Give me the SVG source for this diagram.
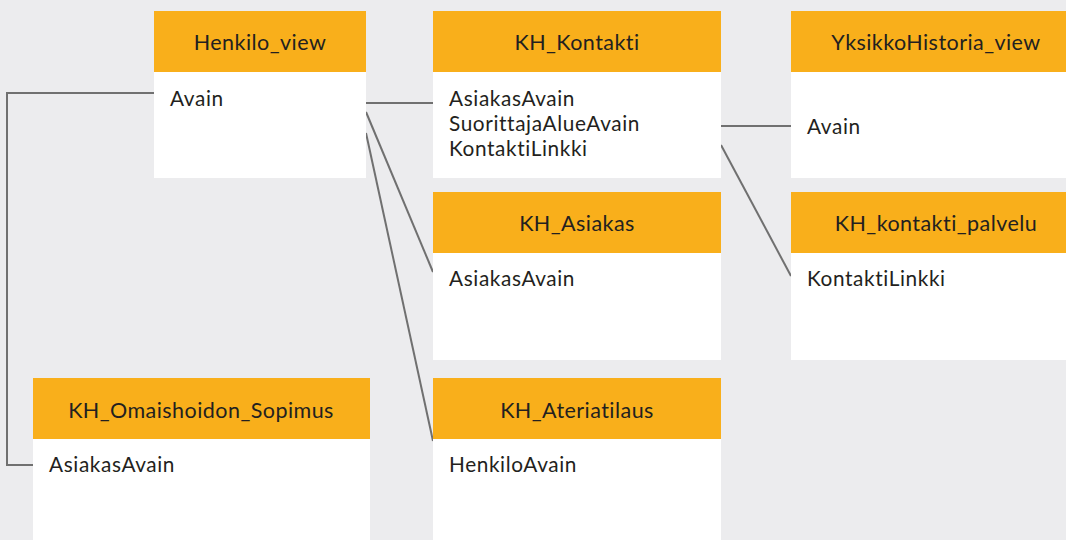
<svg xmlns="http://www.w3.org/2000/svg" width="1066" height="540" viewBox="0 0 1066 540">
  <style>
    .hdr { fill: #f9af1b; }
    .body { fill: #ffffff; }
    text { font-family: Lato, "Open Sans", sans-serif; fill: #231f20; font-variant-ligatures: none; }
    .title { font-size: 21.5px; letter-spacing: 0.45px; text-anchor: middle; }
    .field { font-size: 20.8px; letter-spacing: 0.6px; }
    .link { fill: none; stroke: #707070; stroke-width: 2; }
  </style>
  <rect width="1066" height="540" fill="#ececee"/>

  <!-- relations between tables -->
  <g id="connectors">
    <polyline class="link" points="154,93 7,93 7,465 33,465"/>
    <line class="link" x1="366" y1="103" x2="433" y2="103"/>
    <line class="link" x1="366" y1="112" x2="433" y2="272"/>
    <line class="link" x1="366" y1="133" x2="433" y2="441"/>
    <line class="link" x1="721" y1="126" x2="791" y2="126"/>
    <line class="link" x1="721" y1="145" x2="791" y2="276"/>
  </g>

  <g id="henkilo_view">
    <rect class="body" x="154" y="11" width="212" height="167"/>
    <rect class="hdr" x="154" y="11" width="212" height="61"/>
    <text class="title" x="260" y="50">Henkilo_view</text>
    <text class="field" x="170" y="106">Avain</text>
  </g>

  <g id="kh_kontakti">
    <rect class="body" x="433" y="11" width="288" height="167"/>
    <rect class="hdr" x="433" y="11" width="288" height="61"/>
    <text class="title" x="577" y="50">KH_Kontakti</text>
    <text class="field" x="449" y="106">AsiakasAvain<tspan x="449" dy="25">SuorittajaAlueAvain</tspan><tspan x="449" dy="25">KontaktiLinkki</tspan></text>
  </g>

  <g id="yksikkohistoria_view">
    <rect class="body" x="791" y="11" width="275" height="167"/>
    <rect class="hdr" x="791" y="11" width="275" height="61"/>
    <text class="title" x="936" y="50">YksikkoHistoria_view</text>
    <text class="field" x="807" y="134">Avain</text>
  </g>

  <g id="kh_asiakas">
    <rect class="body" x="433" y="192" width="288" height="168"/>
    <rect class="hdr" x="433" y="192" width="288" height="61"/>
    <text class="title" x="577" y="231">KH_Asiakas</text>
    <text class="field" x="449" y="286">AsiakasAvain</text>
  </g>

  <g id="kh_kontakti_palvelu">
    <rect class="body" x="791" y="192" width="275" height="168"/>
    <rect class="hdr" x="791" y="192" width="275" height="61"/>
    <text class="title" x="936" y="231">KH_kontakti_palvelu</text>
    <text class="field" x="807" y="286">KontaktiLinkki</text>
  </g>

  <g id="kh_omaishoidon_sopimus">
    <rect class="body" x="33" y="378" width="337" height="162"/>
    <rect class="hdr" x="33" y="378" width="337" height="61"/>
    <text class="title" x="201" y="418">KH_Omaishoidon_Sopimus</text>
    <text class="field" x="49" y="472">AsiakasAvain</text>
  </g>

  <g id="kh_ateriatilaus">
    <rect class="body" x="433" y="378" width="288" height="162"/>
    <rect class="hdr" x="433" y="378" width="288" height="61"/>
    <text class="title" x="577" y="418">KH_Ateriatilaus</text>
    <text class="field" x="449" y="472">HenkiloAvain</text>
  </g>
</svg>
